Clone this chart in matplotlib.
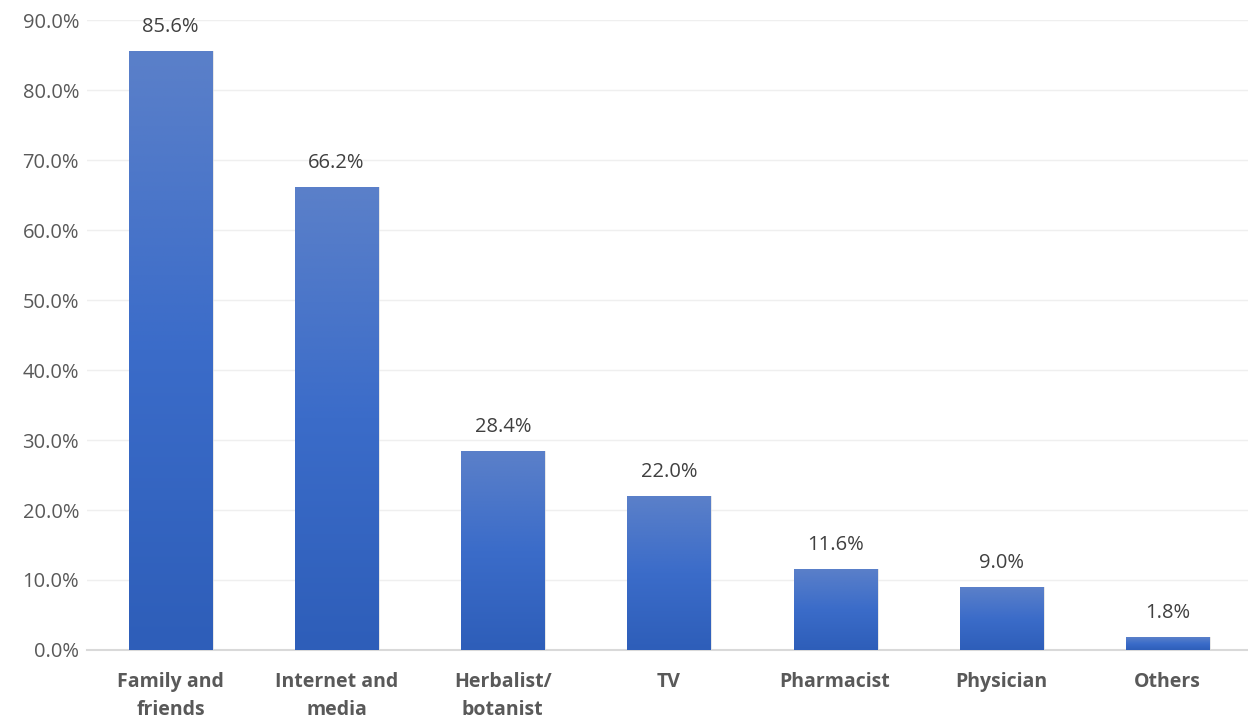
import matplotlib.pyplot as plt
import numpy as np
from matplotlib.colors import LinearSegmentedColormap

plt.rcParams['font.family'] = ['Open Sans', 'DejaVu Sans']

categories = ['Family and\nfriends', 'Internet and\nmedia', 'Herbalist/\nbotanist', 'TV',
              'Pharmacist', 'Physician', 'Others']
values = [85.6, 66.2, 28.4, 22.0, 11.6, 9.0, 1.8]

fig = plt.figure(figsize=(12.48, 7.19), dpi=100)
ax = fig.add_axes([0.07, 0.096, 0.932, 0.876])

x = np.arange(len(categories))
bars = ax.bar(x, values, width=0.5, color='none', zorder=3)

# vertical gradient fill for each bar
cmap = LinearSegmentedColormap.from_list('blu', ['#2e5eb9', '#3b6cc9', '#5b80c9'])
grad = np.linspace(0, 1, 256).reshape(-1, 1)
for b in bars:
    x0, y0 = b.get_x(), b.get_y()
    w, h = b.get_width(), b.get_height()
    # faint shadow
    ax.bar(x0 + w / 2 + 0.012, h, width=w, bottom=0, color='#d8d8d8', zorder=2, alpha=0.6)
    im = ax.imshow(grad, cmap=cmap, origin='lower', aspect='auto',
                   extent=[x0, x0 + w, y0, y0 + h], zorder=3)
    im.set_clip_path(b)

for xi, v in zip(x, values):
    ax.text(xi, v + 2.0, f'{v:.1f}%', ha='center', va='bottom', fontsize=14.5, color='#404040')

ax.set_xlim(-0.5, len(categories) - 0.5)
ax.set_ylim(0, 90)
ax.set_yticks(np.arange(0, 91, 10))
ax.set_yticklabels([f'{t:.1f}%' for t in np.arange(0, 91, 10)], fontsize=14.5, color='#595959')
ax.set_xticks(x)
ax.set_xticklabels(categories, fontsize=14, fontweight='bold', color='#595959', linespacing=1.55)
ax.tick_params(axis='both', length=0)
ax.tick_params(axis='x', pad=16)
ax.tick_params(axis='y', pad=6)
ax.grid(axis='y', color='#efefef', linewidth=1, zorder=0)
for s in ['top', 'right', 'left']:
    ax.spines[s].set_visible(False)
ax.spines['bottom'].set_color('#d9d9d9')
ax.spines['bottom'].set_linewidth(1.5)

fig.savefig('out.png', dpi=100)
